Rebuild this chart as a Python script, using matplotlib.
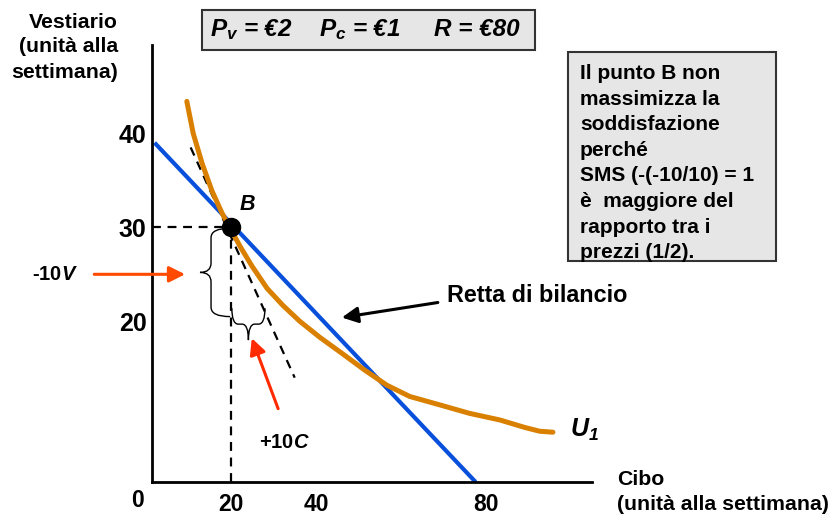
import numpy as np
import matplotlib
matplotlib.use("Agg")
import matplotlib.pyplot as plt
from matplotlib.patches import Rectangle, PathPatch
from matplotlib.path import Path

plt.rcParams['font.family'] = ['Liberation Sans', 'DejaVu Sans']
plt.rcParams['mathtext.fontset'] = 'custom'
plt.rcParams['mathtext.it'] = 'Liberation Sans:italic:bold'
plt.rcParams['mathtext.rm'] = 'Liberation Sans:italic:bold'
plt.rcParams['mathtext.bf'] = 'Liberation Sans:italic:bold'

# --- data ---
x_ticks = [20, 40, 80]
y_ticks = [20, 30, 40]

budget_x = [2.0, 77.6]
budget_y = [39.0, 2.9]

u1_x = [9.6, 11.1, 13.2, 15.5, 17.9, 19.8, 22.1, 24.9, 28.5, 32.2, 36.2,
        40.9, 46.1, 51.5, 56.7, 62.1, 69.2, 76.2, 83.3, 89.2, 92.7, 95.8]
u1_y = [43.4, 40.0, 36.8, 33.9, 31.5, 29.9, 28.0, 25.9, 23.5, 21.7, 20.0,
        18.3, 16.6, 14.8, 13.2, 12.0, 11.1, 10.2, 9.5, 8.7, 8.3, 8.2]

point_b = (20, 30)
tangent_x = [10.5, 35.0]
tangent_y = [38.5, 14.0]

xmin, xmax = 1.4, 105.0
ymin, ymax = 2.9, 49.4

W, H = 832, 515


def fp(x, y):
    # pixel position -> figure fraction
    return x / W, 1 - y / H


fig = plt.figure(figsize=(W / 100, H / 100), dpi=100)
ax = fig.add_axes([152 / W, 33 / H, 440 / W, 437 / H])
ax.set_xlim(xmin, xmax)
ax.set_ylim(ymin, ymax)
for s in ['top', 'right']:
    ax.spines[s].set_visible(False)
for s in ['left', 'bottom']:
    ax.spines[s].set_linewidth(2)
ax.set_xticks(x_ticks)
ax.set_yticks(y_ticks)
ax.tick_params(length=0)
ax.tick_params(axis='x', pad=8)
ax.tick_params(axis='y', pad=4)
for lab in ax.get_xticklabels():
    lab.set_fontsize(16.5)
    lab.set_fontweight('bold')
for lab in ax.get_yticklabels():
    lab.set_fontsize(18)
    lab.set_fontweight('bold')
ax.text(-1.9, 0.9, '0', fontsize=16.5, fontweight='bold', ha='center', va='center', clip_on=False)

# dashed guides to B
ax.plot([xmin, point_b[0]], [point_b[1], point_b[1]], color='black', lw=1.6, ls=(0, (4, 3)))
ax.plot([point_b[0], point_b[0]], [ymin, point_b[1]], color='black', lw=1.6, ls=(0, (4, 3)))

# tangent
ax.plot(tangent_x, tangent_y, color='black', lw=1.6, ls=(0, (4, 3)))

# budget line and indifference curve
ax.plot(budget_x, budget_y, color='#0850dc', lw=3, solid_capstyle='butt')
ax.plot(u1_x, u1_y, color='#d98000', lw=3.6, solid_capstyle='round', solid_joinstyle='round')
ax.plot(*point_b, 'o', color='black', ms=13)
ax.text(23.8, 32.4, 'B', fontsize=15.5, fontweight='bold', style='italic', ha='center', va='center')


def brace_v(xe, xs, xt, yt, yb, r):
    ym = (yt + yb) / 2
    verts = [(xe, yt), (xs, yt), (xs, yt - r), (xs, ym + r), (xs, ym), (xt, ym),
             (xs, ym), (xs, ym - r), (xs, yb + r), (xs, yb), (xe, yb)]
    codes = [Path.MOVETO, Path.CURVE3, Path.CURVE3, Path.LINETO, Path.CURVE3, Path.CURVE3,
             Path.CURVE3, Path.CURVE3, Path.LINETO, Path.CURVE3, Path.CURVE3]
    return Path(verts, codes)


def brace_h(xl, xr, ye, ys, yt, r):
    xm = (xl + xr) / 2
    verts = [(xl, ye), (xl, ys), (xl + r, ys), (xm - r, ys), (xm, ys), (xm, yt),
             (xm, ys), (xm + r, ys), (xr - r, ys), (xr, ys), (xr, ye)]
    codes = [Path.MOVETO, Path.CURVE3, Path.CURVE3, Path.LINETO, Path.CURVE3, Path.CURVE3,
             Path.CURVE3, Path.CURVE3, Path.LINETO, Path.CURVE3, Path.CURVE3]
    return Path(verts, codes)


ax.add_patch(PathPatch(brace_v(19.8, 15.3, 12.7, 29.9, 20.5, 1.0), fill=False, lw=1, ec='black', clip_on=False))
ax.add_patch(PathPatch(brace_h(20.2, 28.0, 21.4, 19.7, 18.0, 1.5), fill=False, lw=1, ec='black', clip_on=False))

# arrows
ax.annotate('', xy=(9.2, 25.0), xytext=(-12.2, 25.0), annotation_clip=False,
            arrowprops=dict(arrowstyle='-|>,head_length=0.8,head_width=0.4', color='#ff4a00',
                            lw=2.2, mutation_scale=12, shrinkA=0, shrinkB=0))
ax.annotate('', xy=(24.9, 18.2), xytext=(31.1, 10.7), annotation_clip=False,
            arrowprops=dict(arrowstyle='-|>,head_length=0.8,head_width=0.4', color='#ff2a00',
                            lw=2.2, mutation_scale=12, shrinkA=0, shrinkB=0))
ax.annotate('', xy=(46.1, 20.4), xytext=(68.7, 22.0), annotation_clip=False,
            arrowprops=dict(arrowstyle='-|>,head_length=0.8,head_width=0.4', color='black',
                            lw=2.2, mutation_scale=12, shrinkA=0, shrinkB=0))

fig.text(*fp(55, 275), '-10$V$', fontsize=14.5, fontweight='bold', ha='center', va='center')
fig.text(*fp(284, 443), '+10$C$', fontsize=14.5, fontweight='bold', ha='center', va='center')
fig.text(*fp(447, 295), 'Retta di bilancio', fontsize=16.8, fontweight='bold', ha='left', va='center')
fig.text(*fp(584, 430), '$U_1$', fontsize=18, ha='center', va='center')

# axis titles
fig.text(*fp(118, 47), 'Vestiario\n(unità alla\nsettimana)', fontsize=15.3, fontweight='bold',
         ha='right', va='center', multialignment='right', linespacing=1.4)
fig.text(*fp(617, 492), 'Cibo\n(unità alla settimana)', fontsize=15.3, fontweight='bold',
         ha='left', va='center', linespacing=1.35)

# price box
x0, y0 = fp(202, 50)
x1, y1 = fp(535, 10)
fig.patches.append(Rectangle((x0, y0), x1 - x0, y1 - y0, transform=fig.transFigure,
                             facecolor='#e6e6e6', edgecolor='#333333', lw=1.5))
for cx, s in [(251, '$P_v$ = €2'), (360, '$P_c$ = €1'), (477, 'R = €80')]:
    fig.text(*fp(cx, 30), s, fontsize=17.5, fontweight='bold', style='italic', ha='center', va='center')

# note box
x0, y0 = fp(568, 261)
x1, y1 = fp(776, 52)
fig.patches.append(Rectangle((x0, y0), x1 - x0, y1 - y0, transform=fig.transFigure,
                             facecolor='#e6e6e6', edgecolor='#333333', lw=1.5))
note = ('Il punto B non\nmassimizza la\nsoddisfazione\nperché\nSMS (-(-10/10) = 1\n'
        'è  maggiore del\nrapporto tra i\nprezzi (1/2).')
fig.text(*fp(580, 64), note, fontsize=15, fontweight='bold', ha='left', va='top', linespacing=1.44)

fig.savefig('out.png', dpi=100)
